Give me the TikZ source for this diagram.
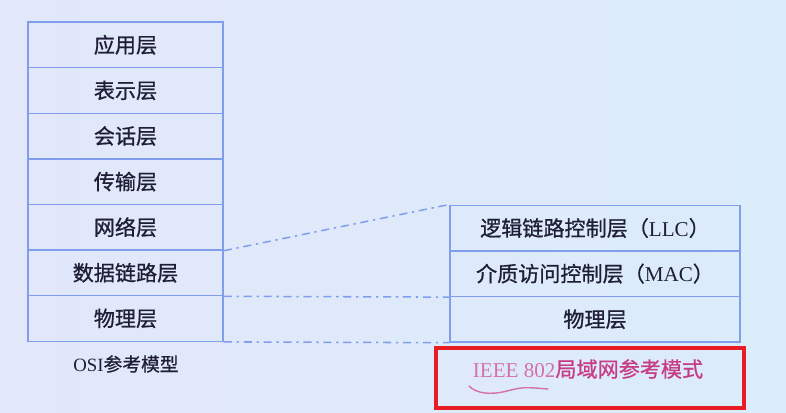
\documentclass[tikz,border=0pt]{standalone}
\usepackage{fontspec}
\setmainfont{Liberation Serif}
\newfontfamily\cjk[FakeBold=0.8]{Noto Sans CJK SC}
\usepackage{xcolor}

\definecolor{bgleft}{RGB}{226,231,250}
\definecolor{bgright}{RGB}{219,236,250}
\definecolor{layerline}{RGB}{128,158,236}
\definecolor{layertext}{RGB}{30,30,55}
\definecolor{framered}{RGB}{232,28,36}
\definecolor{notepink}{RGB}{200,60,135}
\definecolor{notelight}{RGB}{214,112,170}

\begin{document}
\begin{tikzpicture}[
  x = 0.03cm, y = -0.03cm,
  every node/.style = {text = layertext, font = \cjk\fontsize{18}{20}\selectfont},
  osilayer/.style = {draw = layerline, line width = 1.2pt, minimum width = 5.85cm,
                     minimum height = 1.368cm, inner sep = 0pt},
  ieeelayer/.style = {osilayer, minimum width = 8.7cm},
  link/.style = {draw = layerline, line width = 1.3pt,
                 dash pattern = on 7pt off 4pt on 2pt off 4pt}
  ]
  \fill[left color = bgleft, right color = bgright] (0,0) rectangle (786,412);

  % OSI stack
  \foreach \name/\txt [count = \i] in {app/应用层, pres/表示层, sess/会话层,
      trans/传输层, net/网络层, dll/数据链路层, phys/物理层}
    \node[osilayer] (\name) at (125.5, {22 + 45.6*(\i - 0.5)}) {\txt};
  \node[font = \cjk\fontsize{16}{18}\selectfont] (osi) at (126, 364)
    {{\rmfamily OSI}参考模型};

  % IEEE 802 stack
  \node[ieeelayer] (llc) at (595, 228) {逻辑链路控制层（{\rmfamily LLC}）};
  \node[ieeelayer] (mac) at (595, 273.6) {介质访问控制层（{\rmfamily MAC}）};
  \node[ieeelayer] (iphys) at (595, 319.2) {物理层};

  \draw[link] (net.south east) -- (llc.north west);
  \draw[link] (dll.south east) -- (mac.south west);
  \draw[link] (phys.south east) -- (iphys.south west);

  % note
  \draw[framered, line width = 2.8pt] (436,348) rectangle (744,408);
  \node[text = notepink] (model) at (588, 369)
    {{\rmfamily\color{notelight}IEEE 802}局域网参考模式};
  \draw[notelight, line width = 1.2pt, line cap = round]
    (469,386) .. controls (477,394) and (491,395) .. (507,391)
    .. controls (523,387) .. (548,389);
\end{tikzpicture}
\end{document}
